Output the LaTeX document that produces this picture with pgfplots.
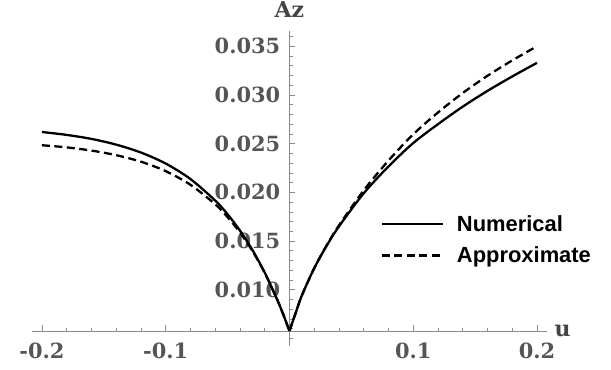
\documentclass[border=0pt]{standalone}
\usepackage{fontspec}
\usepackage{pgfplots}
\pgfplotsset{compat=1.18}
\setmainfont{DejaVu Serif}
\newfontfamily\legfont{Liberation Sans}
\definecolor{tickgray}{HTML}{555555}
\definecolor{labgray}{HTML}{444444}
\definecolor{axgray}{HTML}{8A8A8A}
\pgfplotstableread{
u v
-0.200 0.0262
-0.180 0.0259
-0.160 0.02549
-0.140 0.0249
-0.120 0.02409
-0.100 0.02296
-0.080 0.02137
-0.060 0.01916
-0.050 0.01775
-0.040 0.01608
-0.030 0.01410
-0.020 0.01177
-0.010 0.00901
-0.005 0.00746
0.000 0.00576
}\numleft
\pgfplotstableread{
u v
0.000 0.00576
0.005 0.0076
0.010 0.0094
0.020 0.0122
0.030 0.0145
0.040 0.0165
0.060 0.0199
0.080 0.02266
0.100 0.02506
0.120 0.0270
0.140 0.0288
0.160 0.03042
0.180 0.0319
0.200 0.0333
}\numright
\pgfplotstableread{
u v
-0.200 0.02484
-0.180 0.02462
-0.160 0.02429
-0.140 0.02382
-0.120 0.02315
-0.100 0.02218
-0.080 0.02078
-0.060 0.01878
-0.050 0.01746
-0.040 0.01589
-0.030 0.0140
-0.020 0.01174
-0.010 0.00902
-0.005 0.00746
0.000 0.00576
}\appleft
\pgfplotstableread{
u v
0.000 0.00576
0.005 0.0076
0.010 0.0094
0.020 0.0122
0.030 0.01455
0.040 0.0166
0.060 0.0202
0.080 0.02326
0.100 0.02596
0.120 0.0282
0.140 0.0302
0.160 0.03197
0.180 0.03355
0.200 0.0350
}\appright
\begin{document}
\begin{tikzpicture}[x=1bp,y=1bp]
\useasboundingbox (-32bp,-39bp) rectangle (579bp,331bp);
\begin{axis}[
  at={(0,0)}, anchor=south west,
  scale only axis, width=514.5bp, height=299.6bp,
  xmin=-0.208, xmax=0.2077, ymin=0.00576, ymax=0.03653,
  clip=false,
  scaled x ticks=false, scaled y ticks=false,
  axis x line=bottom, axis y line=middle,
  x axis line style={-, draw=axgray, line width=0.8bp},
  y axis line style={-, draw=axgray, line width=0.8bp},
  xtick={-0.2,-0.1,0.1,0.2},
  xticklabels={-0.2,-0.1,0.1,0.2},
  minor xtick={-0.18,-0.16,-0.14,-0.12,-0.08,-0.06,-0.04,-0.02,0.02,0.04,0.06,0.08,0.12,0.14,0.16,0.18},
  ytick={0.010,0.015,0.020,0.025,0.030,0.035},
  yticklabels={0.010,0.015,0.020,0.025,0.030,0.035},
  minor ytick={0.006,0.007,0.008,0.009,0.011,0.012,0.013,0.014,0.016,0.017,0.018,0.019,0.021,0.022,0.023,0.024,0.026,0.027,0.028,0.029,0.031,0.032,0.033,0.034,0.036},
  tick align=inside,
  major tick length=6bp, minor tick length=3.5bp,
  every tick/.style={draw=axgray, line width=0.6bp},
  xticklabel style={font=\bfseries\fontsize{21}{21}\selectfont, text=tickgray, anchor=base, inner sep=0pt, yshift=-27.5bp},
  yticklabel style={font=\bfseries\fontsize{21}{21}\selectfont, text=tickgray, anchor=east, inner sep=0pt, xshift=-9bp},
  legend image code/.code={\draw[#1] (0bp,0bp) -- (61bp,0bp);},
  legend style={draw=none, fill=none, at={(axis cs:0.07354,0.01514)}, anchor=west,
    font=\legfont\bfseries\fontsize{22}{22}\selectfont, inner sep=0pt, row sep=14bp,
    nodes={inner sep=0pt}, /tikz/every odd column/.append style={column sep=13bp}},
  legend cell align=left,
]
\addplot[black, line width=2.3bp, smooth] table[x=u,y=v] {\numleft};
\addlegendentry{Numerical}
\addplot[black, line width=2.3bp, smooth, forget plot] table[x=u,y=v] {\numright};
\addplot[black, line width=2.3bp, smooth, dash pattern=on 8bp off 4.5bp] table[x=u,y=v] {\appleft};
\addlegendentry{Approximate}
\addplot[black, line width=2.3bp, smooth, dash pattern=on 8bp off 4.5bp, forget plot] table[x=u,y=v] {\appright};
\draw[axgray, line width=0.8bp] (axis cs:0,0.00576) -- (axis cs:0,0.00425);
\draw[axgray, line width=0.6bp] (axis cs:0,0.005) -- ++(3.5bp,0bp);
\node[font=\bfseries\fontsize{22}{22}\selectfont, text=labgray] at (axis cs:0,0.03876) {Az};
\node[font=\bfseries\fontsize{22}{22}\selectfont, text=labgray] at (axis cs:0.2206,0.0058) {u};
\end{axis}
\end{tikzpicture}
\end{document}
